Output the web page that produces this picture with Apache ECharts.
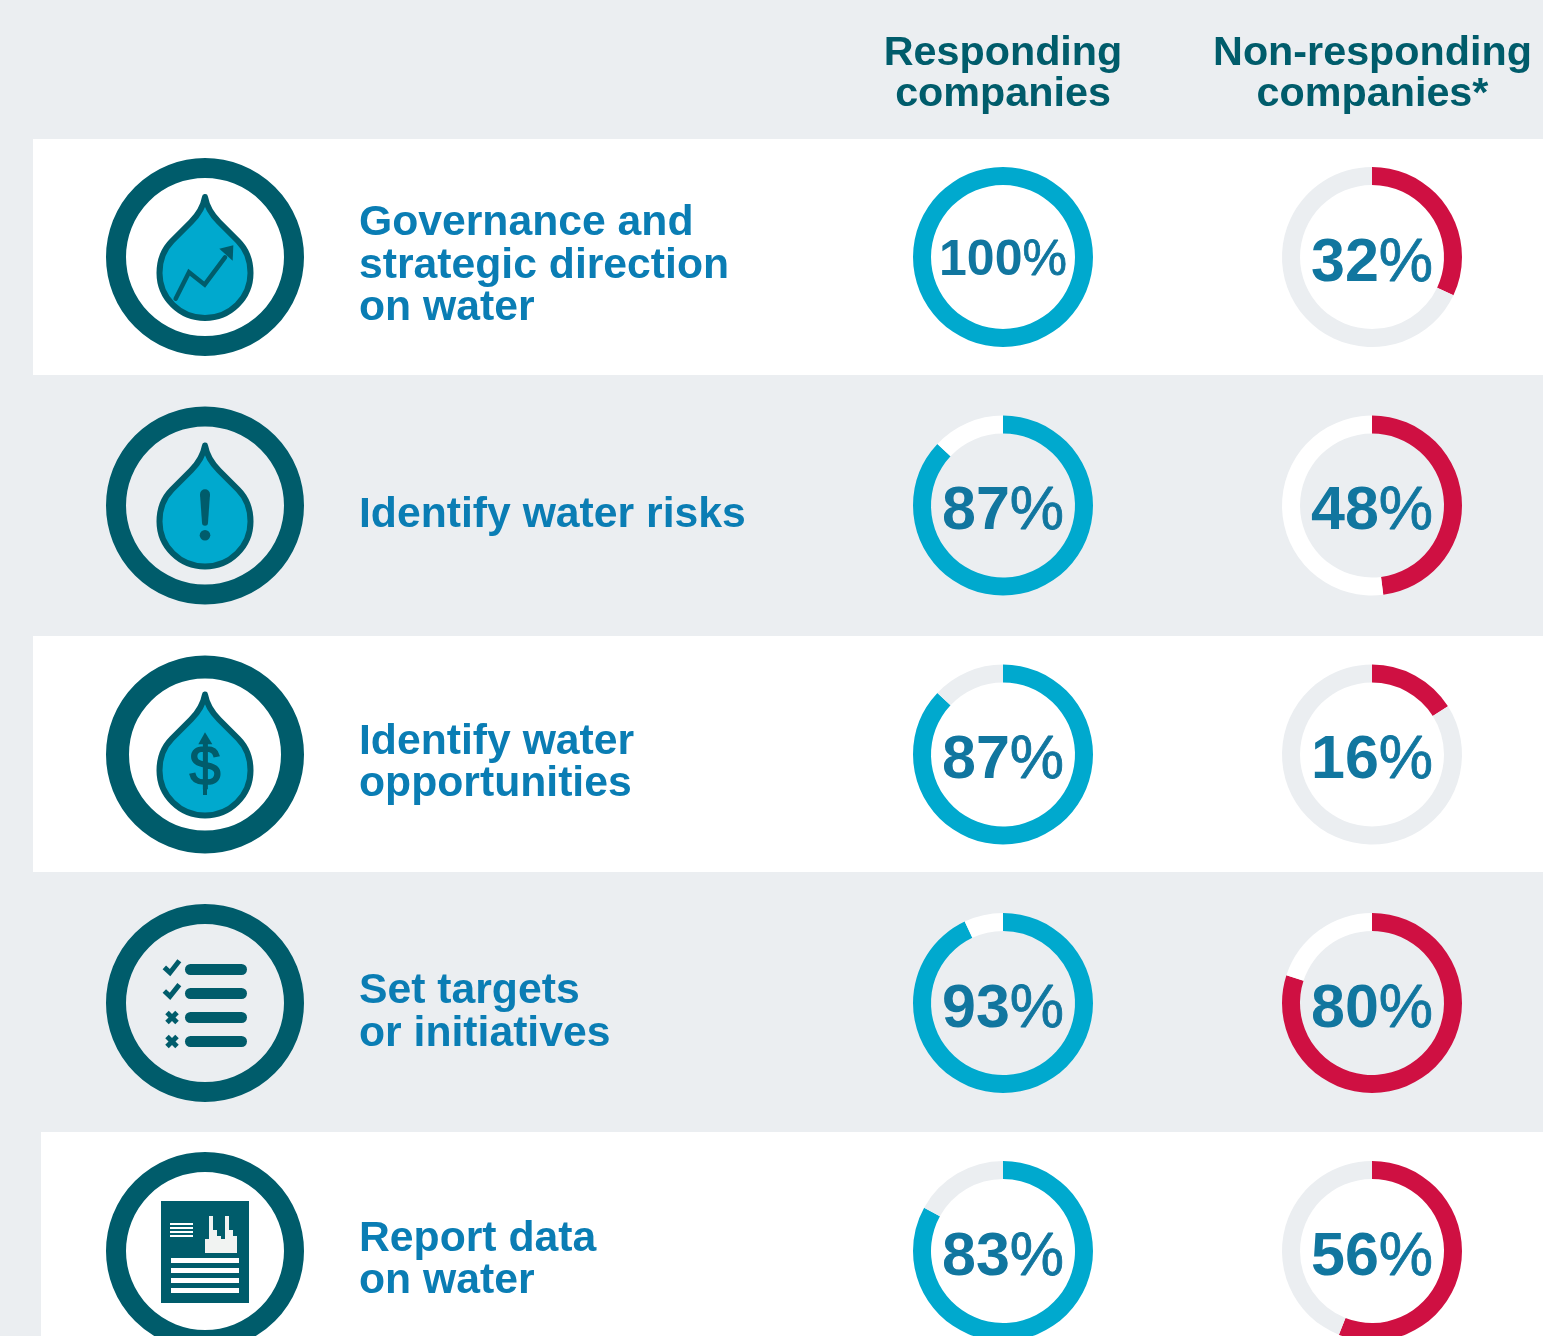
<!DOCTYPE html>
<html><head><meta charset="utf-8">
<style>html,body{margin:0;padding:0;background:#EBEEF1}#c{width:1543px;height:1336px}</style>
<script src="https://cdn.jsdelivr.net/npm/echarts@6/dist/echarts.min.js"></script>
</head><body><div id="c"></div>
<script>
const categories = [
  ['Governance and','strategic direction','on water'],
  ['Identify water risks'],
  ['Identify water','opportunities'],
  ['Set targets','or initiatives'],
  ['Report data','on water']
];
const seriesHeaders = [['Responding','companies'],['Non-responding','companies*']];
const responding = [100,87,87,93,83];
const nonResponding = [32,48,16,80,56];

const FONT='"Liberation Sans",Arial,sans-serif';
const GREY='#EBEEF1',WHITE='#FFFFFF',TEAL='#005C6B',BLUE='#00A9CE',RED='#CF1042',LABEL='#0A7DB4',PCT='#11769F';
const rowY=[257,505.5,754.5,1003,1251];
const rowBg=[WHITE,GREY,WHITE,GREY,WHITE];
const textY=[[223,266,308],[515],[742,784],[991,1034],[1239,1281]];
const ringW=[20,20,23,20,20];
const colX=[1003,1372];

echarts.graphic.registerShape('waterDrop',echarts.graphic.extendShape({
  shape:{cy:0},
  buildPath(ctx,s){
    const o=s.cy;
    ctx.moveTo(205,o-60);
    ctx.bezierCurveTo(203,o-49,197,o-41,191,o-35);
    ctx.lineTo(172,o-16);
    ctx.bezierCurveTo(164,o-8,159.5,o+4,159.5,o+16);
    ctx.bezierCurveTo(159.5,o+41,180,o+61,205,o+61);
    ctx.bezierCurveTo(230,o+61,250.5,o+41,250.5,o+16);
    ctx.bezierCurveTo(250.5,o+4,246,o-8,238,o-16);
    ctx.lineTo(219,o-35);
    ctx.bezierCurveTo(213,o-41,207,o-49,205,o-60);
    ctx.closePath();
  }
}));

const g=[];
function rect(x,y,w,h,fill,r){g.push({type:'rect',silent:true,shape:{x,y,width:w,height:h,r:r||0},style:{fill}});}
function poly(pts,fill){g.push({type:'polygon',silent:true,shape:{points:pts},style:{fill}});}
function dot(cx,cy,r){g.push({type:'circle',silent:true,shape:{cx,cy,r},style:{fill:TEAL}});}
function line(pts,w,cap){g.push({type:'polyline',silent:true,shape:{points:pts},style:{stroke:TEAL,fill:null,lineWidth:w,lineCap:cap||'round',lineJoin:'miter'}});}
function text(t,x,y,size,fill,align){g.push({type:'text',silent:true,x,y,style:{text:t,fill,font:'bold '+size+'px '+FONT,textAlign:align||'left',textVerticalAlign:'middle'}});}
function z(px,py,ox,oy){return [px/3+ox,py/3+oy];}

rect(33,139,1510,236,WHITE);
rect(33,636,1510,236,WHITE);
rect(41,1132,1502,204,WHITE);

seriesHeaders.forEach((h,i)=>h.forEach((t,j)=>text(t,colX[i]+(i?0.5:0),54+41*j,41.3,TEAL,'center')));
categories.forEach((lines,i)=>lines.forEach((t,j)=>text(t,359,textY[i][j],42.7,LABEL)));

rowY.forEach((cy,i)=>{
  g.push({type:'circle',silent:true,shape:{cx:205,cy,r:99-ringW[i]/2},style:{fill:'none',stroke:TEAL,lineWidth:ringW[i]}});
});
function drop(cy){
  g.push({type:'waterDrop',silent:true,shape:{cy},style:{fill:BLUE,stroke:TEAL,lineWidth:6,lineJoin:'round'}});
}
drop(rowY[0]);drop(rowY[1]);drop(rowY[2]);
// icon 1
line([z(257,476,90,140),z(297,397,90,140),z(344,434,90,140),z(405,352,90,140)],4.5);
poly([z(388,326,90,140),z(430,316,90,140),z(428,362,90,140)],TEAL);
// icon 2
poly([z(330,313,90,390),z(360,313,90,390),z(354,398,90,390),z(336,398,90,390)],TEAL);
dot(205,494.3,5);dot(205,522.7,3);dot(205,535.3,5.3);
// icon 3
poly([z(345,277,90,640),z(325,313,90,640),z(367,313,90,640)],TEAL);
rect(203,744,4,51,TEAL);
g.push({type:'text',silent:true,x:205,y:770,style:{text:'$',fill:TEAL,stroke:TEAL,lineWidth:1.6,font:'normal 56px '+FONT,textAlign:'center',textVerticalAlign:'middle'}});
// icon 4
[969.5,993.5,1017.5,1041.5].forEach(y=>rect(185,y-5.5,62,11,TEAL,5.5));
line([z(223,232,90,890),z(240,248,90,890),z(268,212,90,890)],5,'butt');
line([z(223,303,90,890),z(240,319,90,890),z(268,284,90,890)],5,'butt');
[1017.5,1041.5].forEach(y=>{line([[167,y-5],[177,y+5]],5,'butt');line([[177,y-5],[167,y+5]],5,'butt');});
// icon 5
rect(161,1201,88,102,TEAL);
[1258,1268,1278,1288].forEach(y=>rect(171,y,68,5,WHITE));
[1223,1227,1231,1235].forEach(y=>rect(170,y,23,2,WHITE));
poly([[345,369],[345,327],[357,327],[357,258],[369,258],[369,300],[381,300],[381,318],[393,318],[393,327],[405,327],[405,258],[417,258],[417,300],[429,300],[429,318],[441,318],[441,369]].map(p=>z(p[0],p[1],90,1130)),'#F1F3F2');

function donut(v,i,col,color,rest){
  const big=v===100?50:61;
  return {type:'pie',silent:true,animation:false,center:[colX[col],rowY[i]],radius:[72,90],startAngle:90,clockwise:true,
    avoidLabelOverlap:false,emphasis:{disabled:true},labelLine:{show:false},itemStyle:{borderWidth:0},
    data:[
      {value:v,name:'value',itemStyle:{color},label:{show:true,position:'center',formatter:'{n|{c}}{p|%}',padding:[v===100?8:14,0,0,0],
        rich:{n:{color:PCT,fontFamily:FONT,fontWeight:'bold',fontSize:big},p:{color:PCT,fontFamily:FONT,fontWeight:'normal',fontSize:big,textBorderColor:PCT,textBorderWidth:0.8}}}},
      {value:100-v,name:'rest',itemStyle:{color:rest},label:{show:false}}
    ]};
}
const series=[];
responding.forEach((v,i)=>series.push(donut(v,i,0,BLUE,rowBg[i]===WHITE?GREY:WHITE)));
nonResponding.forEach((v,i)=>series.push(donut(v,i,1,RED,rowBg[i]===WHITE?GREY:WHITE)));

const chart=echarts.init(document.getElementById('c'),null,{renderer:'canvas'});
chart.setOption({backgroundColor:GREY,animation:false,graphic:{elements:g},tooltip:{show:false},series});
</script></body></html>
